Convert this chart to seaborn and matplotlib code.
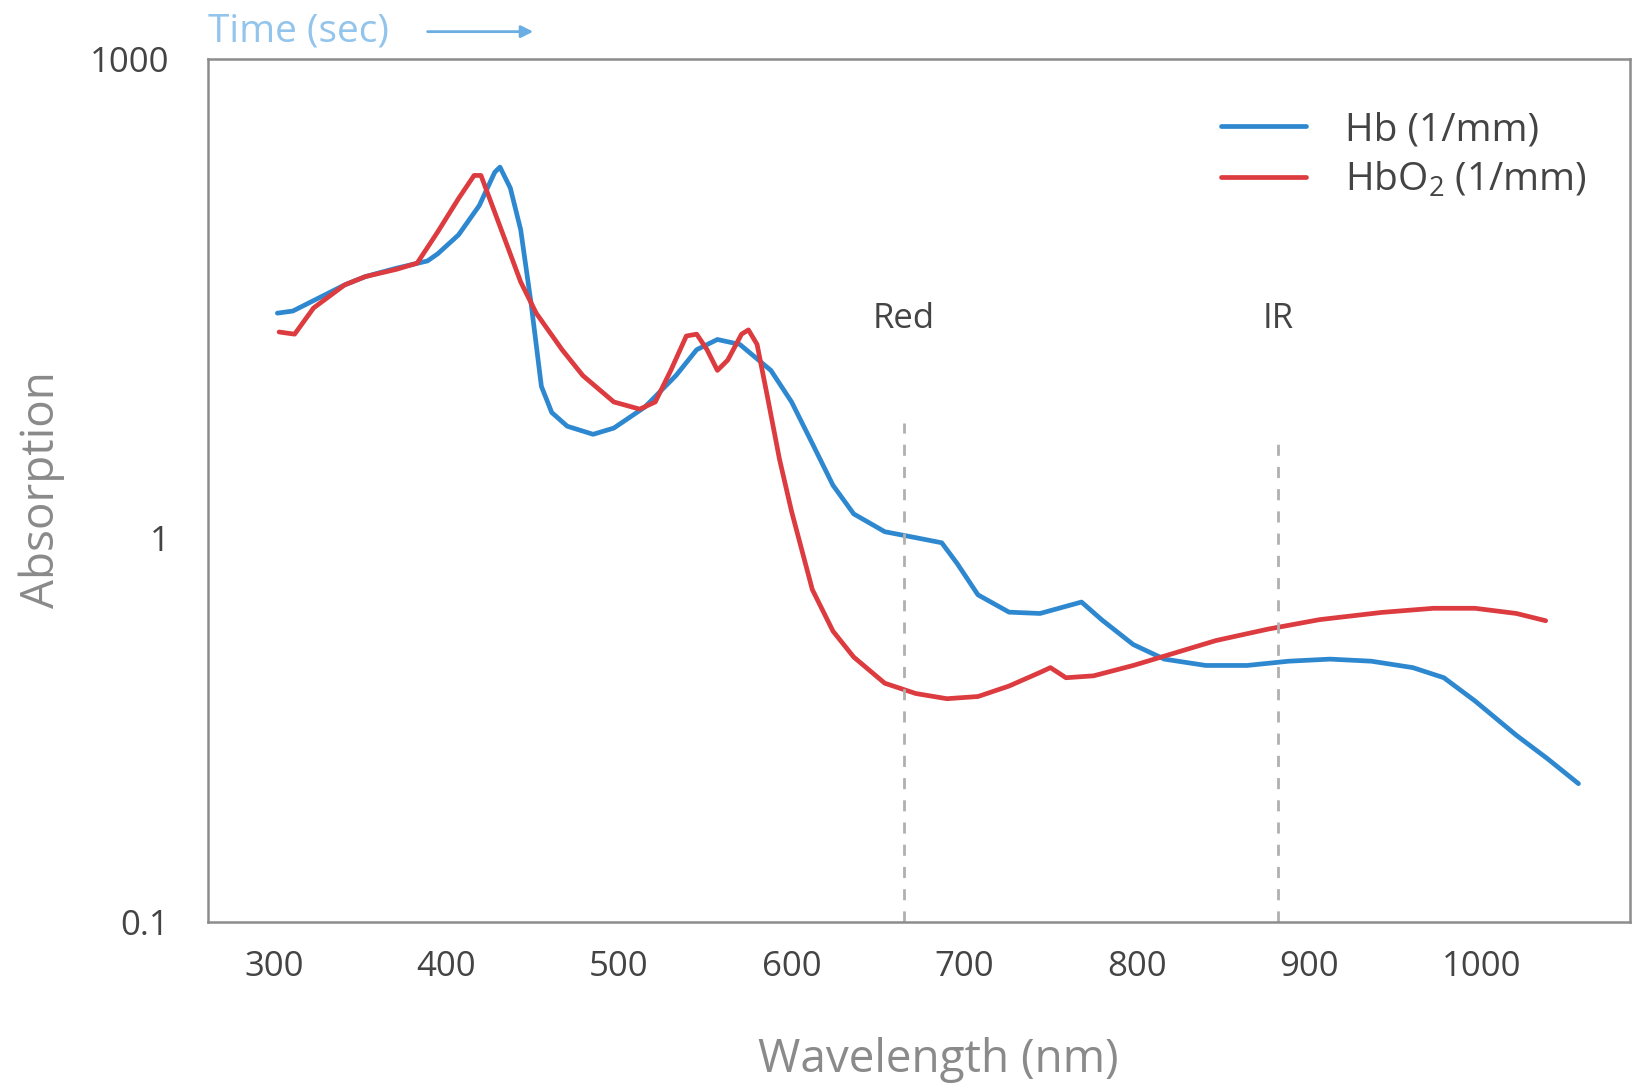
import numpy as np
import pandas as pd
import matplotlib
matplotlib.use("Agg")
import matplotlib.pyplot as plt
import seaborn as sns

# Absorption spectra
hb_wavelength = [302, 311, 323, 341, 353, 371, 389, 395, 407, 419, 428, 431, 437, 443,
                 449, 455, 461, 470, 485, 497, 515, 533, 545, 557, 570, 588, 600, 612,
                 624, 636, 654, 672, 687, 696, 708, 726, 744, 768, 780, 798, 816, 840,
                 864, 888, 912, 936, 960, 978, 996, 1020, 1038, 1056]
hb_absorption = [25.6, 26.4, 30.7, 38.5, 43.4, 49.0, 54.4, 60.4, 79.3, 121, 196, 211, 156, 85.5,
                 29.7, 8.9, 6.1, 5.0, 4.45, 4.87, 6.6, 10.4, 15.1, 17.5, 16.3, 11.2, 7.1, 3.9,
                 2.13, 1.41, 1.09, 1.0, 0.97, 0.856, 0.71, 0.64, 0.635, 0.68, 0.61, 0.527, 0.483, 0.465,
                 0.465, 0.477, 0.483, 0.477, 0.459, 0.432, 0.376, 0.306, 0.266, 0.229]

hbo2_wavelength = [303, 312, 323, 341, 353, 371, 383, 395, 407, 416, 420, 425, 434, 443,
                   452, 467, 479, 497, 512, 521, 530, 539, 545, 551, 557, 563, 571, 575,
                   580, 586, 593, 600, 612, 624, 636, 654, 672, 690, 708, 726, 744, 750,
                   759, 775, 798, 822, 846, 876, 906, 942, 972, 996, 1020, 1037]
hbo2_absorption = [19.5, 18.9, 27.6, 38.5, 43.4, 48.2, 52.7, 83, 134, 187, 187, 134, 73.5, 40.2,
                   25.6, 15.1, 10.4, 7.1, 6.4, 7.1, 11.2, 18.4, 18.9, 15.1, 11.2, 13.0, 18.9, 20.1,
                   16.3, 7.66, 3.1, 1.46, 0.733, 0.571, 0.489, 0.418, 0.393, 0.381, 0.386, 0.411, 0.446, 0.459,
                   0.432, 0.437, 0.465, 0.501, 0.540, 0.578, 0.612, 0.639, 0.655, 0.655, 0.635, 0.608]

marker_names = ["Red", "IR"]
marker_wavelength = [665, 882]
marker_top = [5.25, 3.9]
label_height = 23.5

x_ticks = [300, 400, 500, 600, 700, 800, 900, 1000]
y_ticks = [0.1, 1, 1000]
y_tick_labels = ["0.1", "1", "1000"]

hb = pd.DataFrame({"wavelength": hb_wavelength, "absorption": hb_absorption})
hbo2 = pd.DataFrame({"wavelength": hbo2_wavelength, "absorption": hbo2_absorption})

sns.set_style("white")
plt.rcParams["font.family"] = ["Open Sans", "DejaVu Sans"]
plt.rcParams["mathtext.fontset"] = "custom"
plt.rcParams["mathtext.rm"] = "Open Sans"
plt.rcParams["mathtext.it"] = "Open Sans"

# the picture squeezes the decades above 1 compared with the one below
K = 0.415


def fwd(v):
    t = np.log10(np.clip(np.asarray(v, dtype=float), 1e-12, None))
    return np.where(t < 0, t, t * K)


def inv(u):
    u = np.asarray(u, dtype=float)
    return np.where(u < 0, 10.0 ** u, 10.0 ** (u / K))


fig = plt.figure(figsize=(16.34, 10.91), dpi=100)
ax = fig.add_axes([0.1275, 0.155, 0.8702, 0.7906])

blue = "#2e88d0"
red = "#dc3b3f"
sns.lineplot(data=hb, x="wavelength", y="absorption", ax=ax, color=blue, lw=3.4,
             label="Hb (1/mm)", sort=False)
sns.lineplot(data=hbo2, x="wavelength", y="absorption", ax=ax, color=red, lw=3.4,
             label="HbO$_2$ (1/mm)", sort=False)

ax.set_yscale("function", functions=(fwd, inv))
ax.set_xlim(262, 1086)
ax.set_ylim(0.1, 1000)
ax.set_xticks(x_ticks)
ax.set_yticks(y_ticks)
ax.set_yticklabels(y_tick_labels)
ax.minorticks_off()
ax.set_xlabel("")
ax.set_ylabel("")

for s in ax.spines.values():
    s.set_color("#8c8c8c")
    s.set_linewidth(1.8)
ax.tick_params(axis="both", direction="in", length=4, width=1.2, color="#999999",
               labelsize=25, labelcolor="#444444")
ax.tick_params(axis="x", pad=20)
ax.tick_params(axis="y", pad=28)

# Red / IR markers
ax.vlines(marker_wavelength, 0.1, marker_top, colors="#b0b0b0", linestyles=(0, (4, 4)), lw=2)
for name, wl in zip(marker_names, marker_wavelength):
    ax.text(wl, label_height, name, ha="center", va="center", fontsize=25, color="#444444")

leg = ax.legend(loc="upper left", bbox_to_anchor=(0.712, 0.94), frameon=False,
                fontsize=28, handlelength=2.2, handletextpad=1.0, labelspacing=0.3,
                borderaxespad=0, borderpad=0)
for t in leg.get_texts():
    t.set_color("#444444")

fig.text(0.0257, 0.551, "Absorption", rotation=90, ha="center", va="center",
         fontsize=33, color="#8a8a8a")
fig.text(0.574, 0.028, "Wavelength (nm)", ha="center", va="center",
         fontsize=33, color="#8a8a8a")

fig.text(0.1273, 0.971, "Time (sec)", ha="left", va="center", fontsize=28, color="#92c4ec")
ax.annotate("", xy=(0.328, 0.971), xytext=(0.260, 0.971), xycoords="figure fraction",
            textcoords="figure fraction",
            arrowprops=dict(arrowstyle="-|>", color="#6aaee3", lw=2, mutation_scale=18))

fig.savefig("out.png", dpi=100)
